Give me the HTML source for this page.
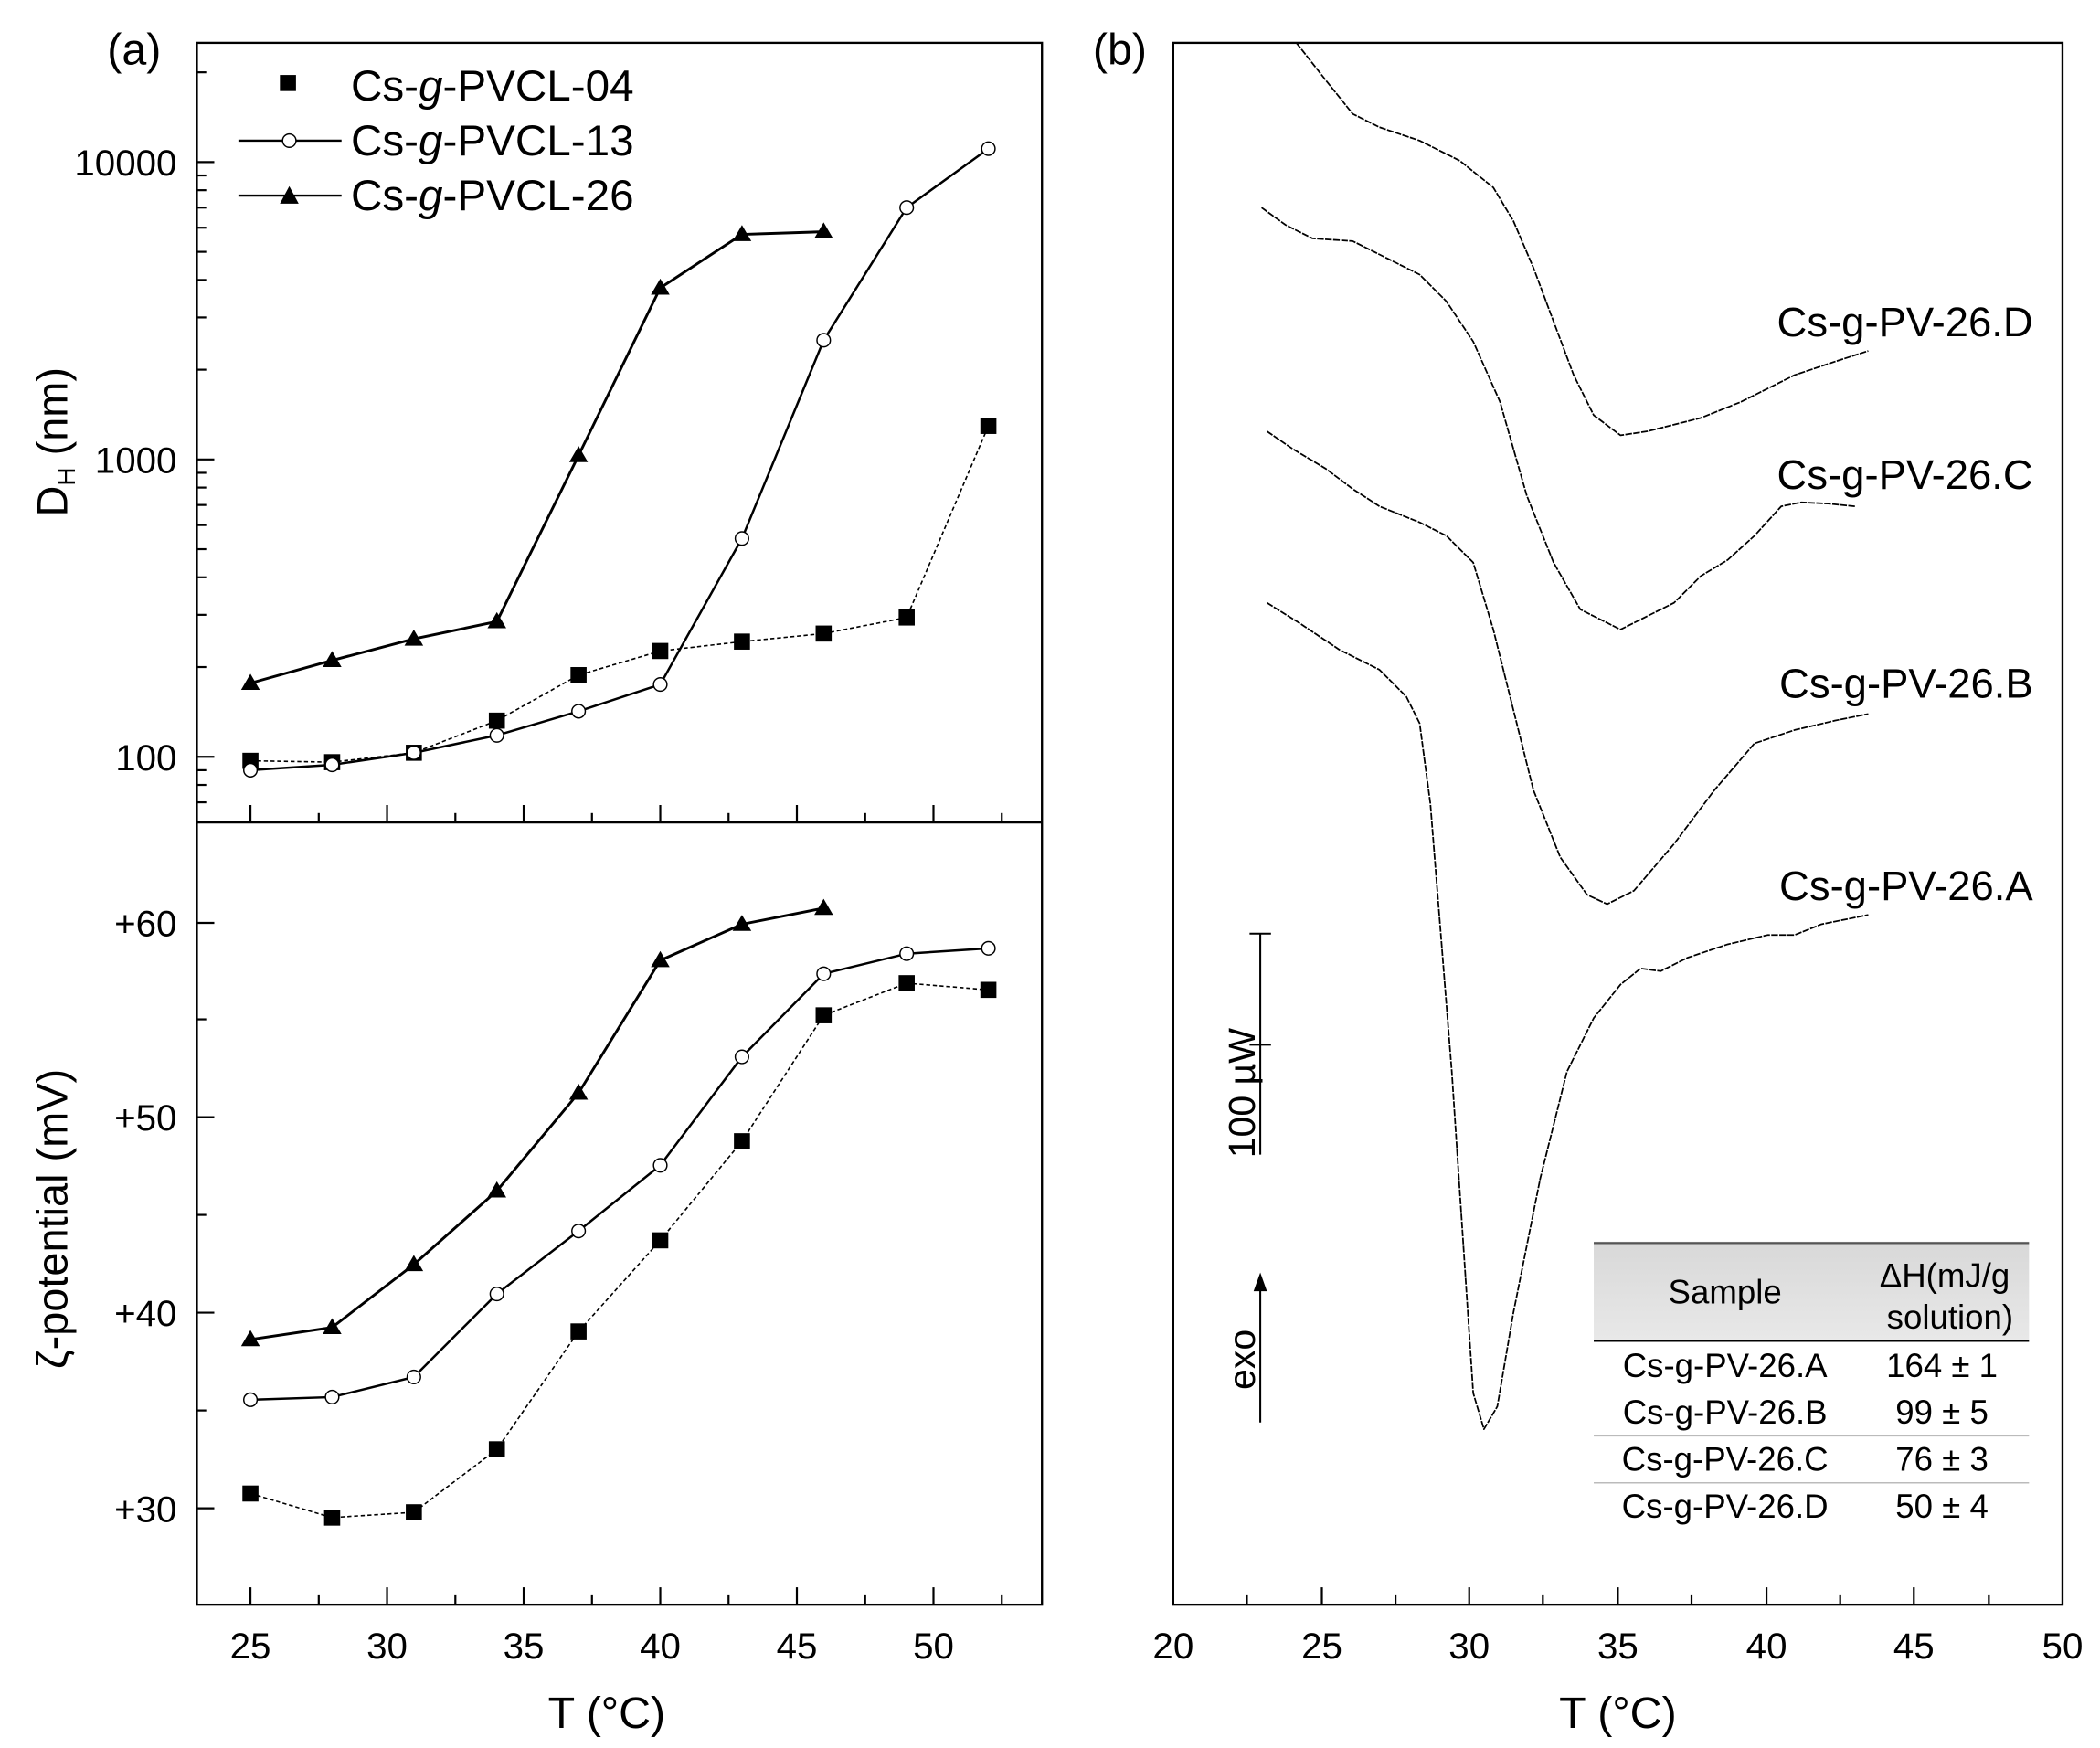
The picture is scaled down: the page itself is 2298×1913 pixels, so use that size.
<!DOCTYPE html>
<html><head><meta charset="utf-8"><style>html,body{margin:0;padding:0;background:#fff}svg{display:block}</style></head>
<body>
<svg width="2298" height="1913" viewBox="0 0 1568 1305" preserveAspectRatio="none" xmlns="http://www.w3.org/2000/svg" font-family="Liberation Sans, sans-serif">
<defs>
<linearGradient id="hg" x1="0" y1="0" x2="0" y2="1"><stop offset="0" stop-color="#d8d8d8"/><stop offset="1" stop-color="#e8e8e8"/></linearGradient>
</defs>
<rect width="1568" height="1305" fill="#fff"/>
<g stroke="#000" stroke-width="1.6" fill="none">
<rect x="147" y="32" width="631" height="1166"/>
<line x1="147" y1="614" x2="778" y2="614"/>
</g>
<g stroke="#000" stroke-width="1.5">
<line x1="147" x2="160" y1="565" y2="565"/><line x1="147" x2="160" y1="343" y2="343"/><line x1="147" x2="160" y1="121" y2="121"/>
<g>
<line x1="147" x2="154" y1="599" y2="599"/><line x1="147" x2="154" y1="586" y2="586"/><line x1="147" x2="154" y1="575" y2="575"/>
<line x1="147" x2="154" y1="498" y2="498"/><line x1="147" x2="154" y1="459" y2="459"/><line x1="147" x2="154" y1="431" y2="431"/><line x1="147" x2="154" y1="410" y2="410"/><line x1="147" x2="154" y1="392" y2="392"/><line x1="147" x2="154" y1="377" y2="377"/><line x1="147" x2="154" y1="364" y2="364"/><line x1="147" x2="154" y1="353" y2="353"/>
<line x1="147" x2="154" y1="276" y2="276"/><line x1="147" x2="154" y1="237" y2="237"/><line x1="147" x2="154" y1="209" y2="209"/><line x1="147" x2="154" y1="188" y2="188"/><line x1="147" x2="154" y1="170" y2="170"/><line x1="147" x2="154" y1="155" y2="155"/><line x1="147" x2="154" y1="142" y2="142"/><line x1="147" x2="154" y1="131" y2="131"/>
<line x1="147" x2="154" y1="54" y2="54"/>
</g>
<line x1="147" x2="160" y1="1126" y2="1126"/><line x1="147" x2="160" y1="980" y2="980"/><line x1="147" x2="160" y1="834" y2="834"/><line x1="147" x2="160" y1="689" y2="689"/>
<line x1="147" x2="154" y1="1053" y2="1053"/><line x1="147" x2="154" y1="907" y2="907"/><line x1="147" x2="154" y1="761" y2="761"/>
<g id="xt">
<line x1="187" x2="187" y1="614" y2="601"/><line x1="238" x2="238" y1="614" y2="607"/><line x1="289" x2="289" y1="614" y2="601"/><line x1="340" x2="340" y1="614" y2="607"/><line x1="391" x2="391" y1="614" y2="601"/><line x1="442" x2="442" y1="614" y2="607"/><line x1="493" x2="493" y1="614" y2="601"/><line x1="544" x2="544" y1="614" y2="607"/><line x1="595" x2="595" y1="614" y2="601"/><line x1="646" x2="646" y1="614" y2="607"/><line x1="697" x2="697" y1="614" y2="601"/><line x1="748" x2="748" y1="614" y2="607"/>
</g>
<use href="#xt" transform="translate(0,584)"/>
<line x1="931" x2="931" y1="1198" y2="1191"/><line x1="987" x2="987" y1="1198" y2="1185"/><line x1="1042" x2="1042" y1="1198" y2="1191"/><line x1="1097" x2="1097" y1="1198" y2="1185"/><line x1="1152" x2="1152" y1="1198" y2="1191"/><line x1="1208" x2="1208" y1="1198" y2="1185"/><line x1="1263" x2="1263" y1="1198" y2="1191"/><line x1="1319" x2="1319" y1="1198" y2="1185"/><line x1="1374" x2="1374" y1="1198" y2="1191"/><line x1="1429" x2="1429" y1="1198" y2="1185"/><line x1="1485" x2="1485" y1="1198" y2="1191"/>
</g>
<g font-size="27.5" fill="#000" text-anchor="end">
<text x="132" y="131">10000</text><text x="132" y="353">1000</text><text x="132" y="575">100</text>
<text x="132" y="699">+60</text><text x="132" y="844">+50</text><text x="132" y="990">+40</text><text x="132" y="1136">+30</text>
</g>
<g font-size="27.5" fill="#000" text-anchor="middle">
<text x="187" y="1238">25</text><text x="289" y="1238">30</text><text x="391" y="1238">35</text><text x="493" y="1238">40</text><text x="595" y="1238">45</text><text x="697" y="1238">50</text>
<text x="876" y="1238">20</text><text x="987" y="1238">25</text><text x="1097" y="1238">30</text><text x="1208" y="1238">35</text><text x="1319" y="1238">40</text><text x="1429" y="1238">45</text><text x="1540" y="1238">50</text>
<text x="453" y="1290" font-size="33">T (°C)</text><text x="1208" y="1290" font-size="33">T (°C)</text>
</g>
<text x="80" y="48" font-size="33">(a)</text>
<text x="816" y="48" font-size="33">(b)</text>
<text transform="translate(50,330) rotate(-90)" font-size="32" text-anchor="middle">D<tspan font-size="19" dy="6">H</tspan><tspan dy="-6"> (nm)</tspan></text>
<text transform="translate(50,910) rotate(-90)" font-size="32" text-anchor="middle">ζ-potential (mV)</text>
<g font-size="32.5">
<rect x="209" y="56" width="12" height="12"/><text x="262" y="75">Cs-<tspan font-style="italic">g</tspan>-PVCL-04</text>
<line x1="178" x2="255" y1="105" y2="105" stroke="#000" stroke-width="1.6"/><circle cx="216" cy="105" r="5" fill="#fff" stroke="#000"/><text x="262" y="116">Cs-<tspan font-style="italic">g</tspan>-PVCL-13</text>
<line x1="178" x2="255" y1="146" y2="146" stroke="#000" stroke-width="1.6"/><polygon points="216,139 223,152 209,152"/><text x="262" y="157">Cs-<tspan font-style="italic">g</tspan>-PVCL-26</text>
</g>
<g fill="none" stroke="#000">
<polyline stroke-width="2" points="187,510 248,493 309,477 371,464 432,340 493,215 554,175 615,173"/>
<polyline stroke-width="1.7" points="187,575 248,571 309,562 371,549 432,531 493,511 554,402 615,254 677,155 738,111"/>
<polyline stroke-width="1.1" stroke-dasharray="3,2" points="187,568 248,569 309,562 371,538 432,504 493,486 554,479 615,473 677,461 738,318"/>
<polyline stroke-width="2" points="187,1000 248,991 309,944 371,889 432,816 493,717 554,690 615,678"/>
<polyline stroke-width="1.7" points="187,1045 248,1043 309,1028 371,966 432,919 493,870 554,789 615,727 677,712 738,708"/>
<polyline stroke-width="1.1" stroke-dasharray="3,2" points="187,1115 248,1133 309,1129 371,1082 432,994 493,926 554,852 615,758 677,734 738,739"/>
</g>
<g fill="#000">
<path d="M187,503l7,12h-14zM248,486l7,12h-14zM309,470l7,12h-14zM371,457l7,12h-14zM432,333l7,12h-14zM493,208l7,12h-14zM554,168l7,12h-14zM615,166l7,12h-14z"/>
<path d="M187,993l7,12h-14zM248,984l7,12h-14zM309,937l7,12h-14zM371,882l7,12h-14zM432,809l7,12h-14zM493,710l7,12h-14zM554,683l7,12h-14zM615,671l7,12h-14z"/>
<g transform="translate(-6,-6)">
<rect x="187" y="568" width="12" height="12"/><rect x="248" y="569" width="12" height="12"/><rect x="309" y="562" width="12" height="12"/><rect x="371" y="538" width="12" height="12"/><rect x="432" y="504" width="12" height="12"/><rect x="493" y="486" width="12" height="12"/><rect x="554" y="479" width="12" height="12"/><rect x="615" y="473" width="12" height="12"/><rect x="677" y="461" width="12" height="12"/><rect x="738" y="318" width="12" height="12"/>
<rect x="187" y="1115" width="12" height="12"/><rect x="248" y="1133" width="12" height="12"/><rect x="309" y="1129" width="12" height="12"/><rect x="371" y="1082" width="12" height="12"/><rect x="432" y="994" width="12" height="12"/><rect x="493" y="926" width="12" height="12"/><rect x="554" y="852" width="12" height="12"/><rect x="615" y="758" width="12" height="12"/><rect x="677" y="734" width="12" height="12"/><rect x="738" y="739" width="12" height="12"/>
</g>
</g>
<g fill="#fff" stroke="#000" stroke-width="1">
<circle cx="187" cy="575" r="5"/><circle cx="248" cy="571" r="5"/><circle cx="309" cy="562" r="5"/><circle cx="371" cy="549" r="5"/><circle cx="432" cy="531" r="5"/><circle cx="493" cy="511" r="5"/><circle cx="554" cy="402" r="5"/><circle cx="615" cy="254" r="5"/><circle cx="677" cy="155" r="5"/><circle cx="738" cy="111" r="5"/>
<circle cx="187" cy="1045" r="5"/><circle cx="248" cy="1043" r="5"/><circle cx="309" cy="1028" r="5"/><circle cx="371" cy="966" r="5"/><circle cx="432" cy="919" r="5"/><circle cx="493" cy="870" r="5"/><circle cx="554" cy="789" r="5"/><circle cx="615" cy="727" r="5"/><circle cx="677" cy="712" r="5"/><circle cx="738" cy="708" r="5"/>
</g>
<rect x="876" y="32" width="664" height="1166" fill="none" stroke="#000" stroke-width="1.6"/>
<g fill="none" stroke="#000" stroke-width="1.2" stroke-dasharray="5,1" stroke-linejoin="round">
<polyline points="968,32 990,60 1010,85 1030,95 1060,105 1090,120 1115,140 1130,165 1145,200 1160,240 1175,280 1190,310 1210,325 1230,322 1270,312 1300,300 1340,280 1370,270 1395,262"/>
<polyline points="942,155 960,168 980,178 1010,180 1030,190 1060,205 1080,225 1100,255 1120,300 1140,370 1160,420 1180,455 1210,470 1230,460 1250,450 1270,430 1290,418 1310,400 1330,378 1345,375 1365,376 1385,378"/>
<polyline points="946,322 965,335 990,350 1010,365 1030,378 1060,390 1080,400 1100,420 1115,470 1130,530 1145,590 1165,640 1185,668 1200,675 1220,665 1250,630 1280,590 1310,555 1340,545 1370,538 1395,533"/>
<polyline points="946,450 970,465 1000,485 1030,500 1050,520 1060,540 1068,600 1076,700 1084,800 1092,920 1100,1040 1108,1067 1118,1050 1130,980 1150,880 1170,800 1190,760 1210,735 1225,723 1240,725 1260,715 1290,705 1320,698 1340,698 1360,690 1395,683"/>
</g>
<g font-size="31" text-anchor="end">
<text x="1518" y="251">Cs-g-PV-26.D</text><text x="1518" y="365">Cs-g-PV-26.C</text><text x="1518" y="521">Cs-g-PV-26.B</text><text x="1518" y="672">Cs-g-PV-26.A</text>
</g>
<g stroke="#000" stroke-width="1.4">
<line x1="941" x2="941" y1="697" y2="862"/><line x1="933" x2="949" y1="697" y2="697"/><line x1="933" x2="949" y1="780" y2="780"/>
<line x1="941" x2="941" y1="1062" y2="960"/>
</g>
<path d="M941,950l5,14h-10z"/>
<text transform="translate(937,816) rotate(-90)" font-size="28" text-anchor="middle">100 µW</text>
<text transform="translate(937,1015) rotate(-90)" font-size="28" text-anchor="middle">exo</text>
<rect x="1190" y="927" width="325" height="73" fill="url(#hg)"/>
<line x1="1190" x2="1515" y1="928" y2="928" stroke="#555" stroke-width="1.5"/>
<line x1="1190" x2="1515" y1="1001" y2="1001" stroke="#000" stroke-width="1.6"/>
<line x1="1190" x2="1515" y1="1072" y2="1072" stroke="#bbb" stroke-width="1"/>
<line x1="1190" x2="1515" y1="1107" y2="1107" stroke="#bbb" stroke-width="1"/>
<g font-size="25" text-anchor="middle">
<text x="1288" y="973">Sample</text>
<text x="1452" y="961">ΔH(mJ/g</text><text x="1456" y="992">solution)</text>
<text x="1288" y="1028">Cs-g-PV-26.A</text><text x="1450" y="1028">164 ± 1</text>
<text x="1288" y="1063">Cs-g-PV-26.B</text><text x="1450" y="1063">99 ± 5</text>
<text x="1288" y="1098">Cs-g-PV-26.C</text><text x="1450" y="1098">76 ± 3</text>
<text x="1288" y="1133">Cs-g-PV-26.D</text><text x="1450" y="1133">50 ± 4</text>
</g>
</svg>
</body></html>
